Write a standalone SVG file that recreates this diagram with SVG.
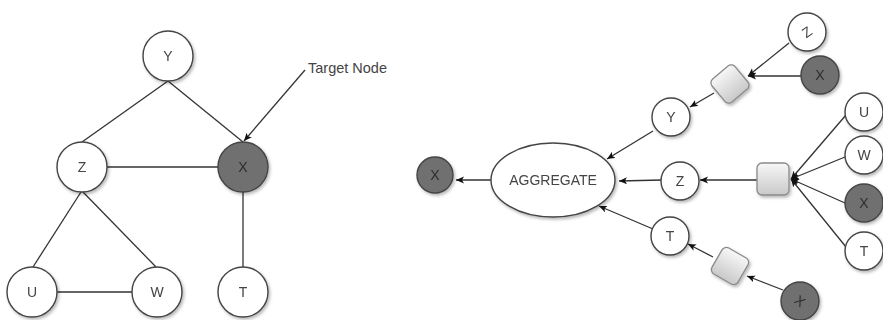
<svg xmlns="http://www.w3.org/2000/svg" width="883" height="320" viewBox="0 0 883 320">
  <style>
    .node { fill: #ffffff; stroke: #444444; stroke-width: 1.4; }
    .dark { fill: #6f6f6f; stroke: #444444; stroke-width: 1.4; }
    .sq { fill: url(#sqGrad); stroke: #8a8a8a; stroke-width: 1.3; }
    .lbl { font-family: "Liberation Sans", Arial, sans-serif; font-size: 14px; fill: #444444; text-anchor: middle; dominant-baseline: central; }
    .lbl-dark { fill: #2e2e2e; }
    .edge { stroke: #333333; stroke-width: 1.3; fill: none; }
    .arr { stroke: #333333; stroke-width: 1.3; fill: none; marker-end: url(#head); }
    .note { font-family: "Liberation Sans", Arial, sans-serif; font-size: 14.5px; fill: #444444; }
  </style>
  <defs>
    <marker id="head" markerUnits="userSpaceOnUse" markerWidth="10" markerHeight="8" refX="8" refY="3.5" orient="auto">
      <path d="M0,0 L8,3.5 L0,7 L2,3.5 z" fill="#111111"/>
    </marker>
    <linearGradient id="sqGrad" x1="0" y1="0" x2="0" y2="1">
      <stop offset="0" stop-color="#f7f7f7"/>
      <stop offset="1" stop-color="#c9c9c9"/>
    </linearGradient>
    <filter id="shadow" x="-30%" y="-30%" width="160%" height="160%">
      <feDropShadow dx="1.5" dy="2" stdDeviation="1.5" flood-color="#000000" flood-opacity="0.28"/>
    </filter>
  </defs>

  <rect width="883" height="320" fill="#ffffff"/>

  <!-- Left: undirected graph -->
  <g id="graph-edges">
    <line class="edge" x1="168" y1="81" x2="82" y2="142"/>
    <line class="edge" x1="168" y1="81" x2="243" y2="142"/>
    <line class="edge" x1="107" y1="167" x2="218" y2="167"/>
    <line class="edge" x1="81" y1="192" x2="33" y2="267"/>
    <line class="edge" x1="83" y1="192" x2="156" y2="267"/>
    <line class="edge" x1="243" y1="192" x2="243" y2="267"/>
    <line class="edge" x1="57" y1="292" x2="132" y2="292"/>
    <line class="arr" x1="305" y1="70" x2="244" y2="141"/>
  </g>

  <g id="g-Y" filter="url(#shadow)">
    <circle class="node" cx="168" cy="56" r="25"/>
    <text class="lbl" x="168" y="56">Y</text>
  </g>
  <g id="g-Z" filter="url(#shadow)">
    <circle class="node" cx="82" cy="167" r="25"/>
    <text class="lbl" x="82" y="167">Z</text>
  </g>
  <g id="g-X" filter="url(#shadow)">
    <circle class="dark" cx="243" cy="167" r="25"/>
    <text class="lbl lbl-dark" x="243" y="167">X</text>
  </g>
  <g id="g-U" filter="url(#shadow)">
    <circle class="node" cx="32" cy="292" r="25"/>
    <text class="lbl" x="32" y="292">U</text>
  </g>
  <g id="g-W" filter="url(#shadow)">
    <circle class="node" cx="157" cy="292" r="25"/>
    <text class="lbl" x="157" y="292">W</text>
  </g>
  <g id="g-T" filter="url(#shadow)">
    <circle class="node" cx="243" cy="292" r="25"/>
    <text class="lbl" x="243" y="292">T</text>
  </g>
  <g id="target-label">
    <text class="note" x="308" y="73">Target Node</text>
  </g>

  <!-- Right: aggregation tree -->
  <g id="tree-connectors">
    <line class="arr" x1="789" y1="43" x2="748" y2="76"/>
    <line class="arr" x1="801" y1="76" x2="748" y2="76"/>
    <line class="arr" x1="714" y1="93" x2="690" y2="107"/>
    <line class="arr" x1="653" y1="131" x2="607" y2="159"/>
    <line class="arr" x1="757" y1="180" x2="700" y2="180"/>
    <line class="arr" x1="662" y1="180" x2="619" y2="181"/>
    <line class="arr" x1="846" y1="115" x2="791" y2="179"/>
    <line class="arr" x1="845" y1="157" x2="791" y2="179"/>
    <line class="arr" x1="845" y1="203" x2="791" y2="179"/>
    <line class="arr" x1="846" y1="247" x2="791" y2="179"/>
    <line class="arr" x1="653" y1="229" x2="599" y2="206"/>
    <line class="arr" x1="713" y1="257" x2="688" y2="244"/>
    <line class="arr" x1="783" y1="290" x2="747" y2="276"/>
    <line class="arr" x1="491" y1="180" x2="456" y2="180"/>
  </g>

  <g id="t-Z1" filter="url(#shadow)">
    <circle class="node" cx="807" cy="32" r="19"/>
    <text class="lbl" x="807" y="32" transform="rotate(-35 807 32)">Z</text>
  </g>
  <g id="t-X1" filter="url(#shadow)">
    <circle class="dark" cx="820" cy="75" r="19"/>
    <text class="lbl lbl-dark" x="820" y="75">X</text>
  </g>
  <g id="t-agg1" filter="url(#shadow)">
    <rect class="sq" x="-15" y="-15" width="30" height="30" rx="5" transform="translate(730 84) rotate(-40)"/>
  </g>
  <g id="t-Y" filter="url(#shadow)">
    <circle class="node" cx="671" cy="117" r="19"/>
    <text class="lbl" x="671" y="117">Y</text>
  </g>
  <g id="t-U" filter="url(#shadow)">
    <circle class="node" cx="864" cy="112" r="19"/>
    <text class="lbl" x="864" y="112">U</text>
  </g>
  <g id="t-W" filter="url(#shadow)">
    <circle class="node" cx="864" cy="155" r="19"/>
    <text class="lbl" x="864" y="155">W</text>
  </g>
  <g id="t-X2" filter="url(#shadow)">
    <circle class="dark" cx="864" cy="203" r="19"/>
    <text class="lbl lbl-dark" x="864" y="203">X</text>
  </g>
  <g id="t-T2" filter="url(#shadow)">
    <circle class="node" cx="864" cy="251" r="19"/>
    <text class="lbl" x="864" y="251">T</text>
  </g>
  <g id="t-agg2" filter="url(#shadow)">
    <rect class="sq" x="757" y="163" width="32" height="32" rx="5"/>
  </g>
  <g id="t-Z" filter="url(#shadow)">
    <circle class="node" cx="680" cy="181" r="19"/>
    <text class="lbl" x="680" y="181">Z</text>
  </g>
  <g id="t-aggregate" filter="url(#shadow)">
    <ellipse class="node" cx="553" cy="180" rx="62" ry="37"/>
    <text class="lbl" x="553" y="180">AGGREGATE</text>
  </g>
  <g id="t-Xout" filter="url(#shadow)">
    <circle class="dark" cx="435" cy="175" r="18"/>
    <text class="lbl lbl-dark" x="435" y="175">X</text>
  </g>
  <g id="t-T" filter="url(#shadow)">
    <circle class="node" cx="670" cy="236" r="19"/>
    <text class="lbl" x="670" y="236">T</text>
  </g>
  <g id="t-agg3" filter="url(#shadow)">
    <rect class="sq" x="-15" y="-15" width="30" height="30" rx="5" transform="translate(730 266) rotate(30)"/>
  </g>
  <g id="t-X3" filter="url(#shadow)">
    <circle class="dark" cx="800" cy="301" r="19"/>
    <text class="lbl lbl-dark" x="800" y="301" transform="rotate(38 800 301)">X</text>
  </g>
</svg>
